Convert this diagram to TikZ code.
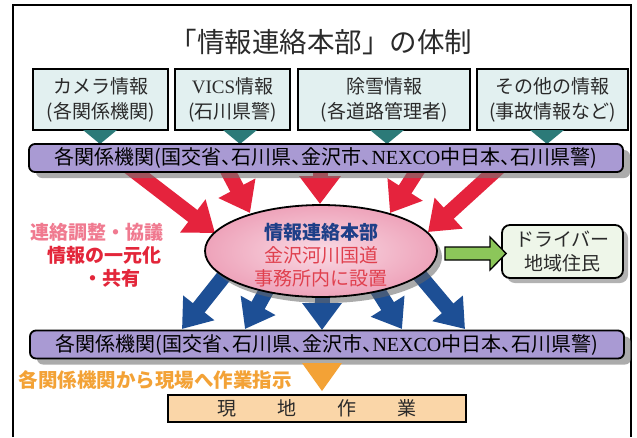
\documentclass[tikz,border=0pt]{standalone}
\usepackage{fontspec}
\setmainfont{Liberation Serif}
\newfontfamily\cjk{Noto Sans CJK JP}
\newfontfamily\cjkp[RawFeature=+halt]{Noto Sans CJK JP}
\newfontfamily\lat{Liberation Serif}
\usetikzlibrary{arrows.meta,shapes.geometric,shadows,calc}
\definecolor{boxfill}{HTML}{E2F0F0}
\definecolor{tealtri}{HTML}{2C7A78}
\definecolor{lav}{HTML}{A99AD3}
\definecolor{arrred}{HTML}{E5233D}
\definecolor{arrblue}{HTML}{1D4F95}
\definecolor{pinkin}{HTML}{F9DAE4}
\definecolor{pinkout}{HTML}{EEA3BA}
\definecolor{navytxt}{HTML}{1E3F88}
\definecolor{redtxt}{HTML}{E0404E}
\definecolor{pinktxt}{HTML}{F07A90}
\definecolor{redbold}{HTML}{E3263A}
\definecolor{grnarr}{HTML}{8CC65A}
\definecolor{drvfill}{HTML}{EEF6E9}
\definecolor{orng}{HTML}{F3A236}
\definecolor{peach}{HTML}{FAD6A8}
\definecolor{txtgray}{HTML}{2A2A2A}
\begin{document}
\begin{tikzpicture}[x=1pt,y=-1pt,
  infobox/.style={draw=black, line width=1.4pt, fill=boxfill, minimum height=61pt, inner sep=0pt, align=center, text=txtgray, font=\cjk\fontsize{19}{25}\selectfont},
  barbox/.style={draw=black, line width=1.8pt, rounded corners=6pt, fill=lav, minimum width=594pt, minimum height=28pt, inner sep=0pt, font=\cjkp\fontsize{20}{22}\selectfont, drop shadow={shadow xshift=7pt, shadow yshift=-6pt, fill=black!55, opacity=0.6}},
  redarrow/.style={draw=arrred, line width=15pt, -{Triangle[length=28pt,width=40pt]}},
  bluearrow/.style={draw=arrblue, line width=15pt, -{Triangle[length=27pt,width=38pt]}},
  sidetext/.style={font=\cjk\bfseries\fontsize{19}{23}\selectfont, inner sep=0pt}
]
\useasboundingbox (0,0) rectangle (637,437);
\fill[white] (0,0) rectangle (637,437);
% frame
\draw[line width=2pt, black] (13,437) -- (13,5) -- (631,5) -- (631,437);
% title
\node[font=\cjk\fontsize{27.5}{30}\selectfont, text=txtgray] (title) at (321,42) {「情報連絡本部」の体制};
% info boxes
\node[infobox, minimum width=135pt] (cam) at (100.5,99.5) {カメラ情報\\(各関係機関)};
\node[infobox, minimum width=115pt] (vics) at (232.5,99.5) {{\lat VICS}情報\\(石川県警)};
\node[infobox, minimum width=172pt] (snow) at (384,99.5) {除雪情報\\(各道路管理者)};
\node[infobox, minimum width=151pt] (other) at (552.5,99.5) {その他の情報\\(事故情報など)};
% teal triangles
\foreach \tx in {100,240,387,547} {
  \fill[tealtri] (\tx-17,130) -- (\tx+17,130) -- (\tx,144) -- cycle;
}
% red arrows (behind bar 1)
\coordinate (ra1) at (120,160); \coordinate (rb1) at (215,233);
\coordinate (ra2) at (222,160); \coordinate (rb2) at (250,213);
\coordinate (ra3) at (320,160); \coordinate (rb3) at (320,204);
\coordinate (ra4) at (424,160); \coordinate (rb4) at (390,213);
\coordinate (ra5) at (507,160); \coordinate (rb5) at (428,232);
\foreach \i in {1,...,5} { \draw[redarrow] (ra\i) -- (rb\i); }
% blue arrows (behind ellipse and bar 2)
\coordinate (ba1) at (232,266); \coordinate (bb1) at (182,329);
\coordinate (ba2) at (275,275); \coordinate (bb2) at (245,329);
\coordinate (ba3) at (322,280); \coordinate (bb3) at (322,330);
\coordinate (ba4) at (368,275); \coordinate (bb4) at (402,329);
\coordinate (ba5) at (412,266); \coordinate (bb5) at (465,329);
\foreach \i in {1,...,5} { \draw[bluearrow] (ba\i) -- (bb\i); }
% bars
\node[barbox] (bar1) at (326,158) {各関係機関(国交省、石川県、金沢市、{\lat NEXCO}中日本、石川県警)};
\node[barbox] (bar2) at (327,344.5) {各関係機関(国交省、石川県、金沢市、{\lat NEXCO}中日本、石川県警)};
% ellipse
\node[ellipse, draw=black, line width=1.8pt, minimum width=232pt, minimum height=92pt, inner color=pinkin, outer color=pinkout, drop shadow={shadow xshift=5pt, shadow yshift=-6pt, fill=black!60, opacity=0.55}] (hq) at (321,251) {};
\node[align=center, font=\cjk\fontsize{19}{23}\selectfont, inner sep=0pt] (hqtext) at (321,255)
  {{\color{navytxt}\bfseries 情報連絡本部}\\{\color{redtxt}金沢河川国道}\\{\color{redtxt}事務所内に設置}};
% left texts
\node[sidetext, text=pinktxt] (l1) at (97,232) {連絡調整・協議};
\node[sidetext, text=redbold] (l2) at (104,255) {情報の一元化};
\node[sidetext, text=redbold] (l3) at (112,278) {・共有};
% driver box
\node[draw=black, line width=1.8pt, rounded corners=8pt, fill=drvfill, minimum width=121pt, minimum height=53pt, inner sep=0pt, align=center, font=\cjk\fontsize{19}{24}\selectfont, text=txtgray, drop shadow={shadow xshift=5pt, shadow yshift=-5pt, fill=black!55, opacity=0.55}] (drv) at (562.5,251.5) {ドライバー\\地域住民};
% green arrow
\coordinate (ga) at (445,253.5);
\coordinate (gb) at ($(drv.west)+(5,2)$);
\draw[line width=1.3pt, fill=grnarr, line join=miter] (ga) ++(0,-6.5) -- ++(45,0) -- ++(0,-10) -- (gb) -- ($(ga)+(45,16.5)$) -- ++(0,-10) -- ($(ga)+(0,6.5)$) -- cycle;
% orange
\node[font=\cjk\bfseries\fontsize{19.5}{22}\selectfont, text=orng, inner sep=0pt] (ortext) at (155.5,380) {各関係機関から現場へ作業指示};
\coordinate (ot) at (322,391);
\fill[orng] (ot) ++(-20,-28) -- ++(40,0) -- (ot) -- cycle;
% work box
\node[draw=black, line width=1.5pt, fill=peach, minimum width=298pt, minimum height=27pt, inner sep=0pt, font=\cjk\fontsize{19}{22}\selectfont, text=txtgray] (work) at (317,408.5) {現\hspace{41pt}地\hspace{41pt}作\hspace{41pt}業};
\end{tikzpicture}
\end{document}
